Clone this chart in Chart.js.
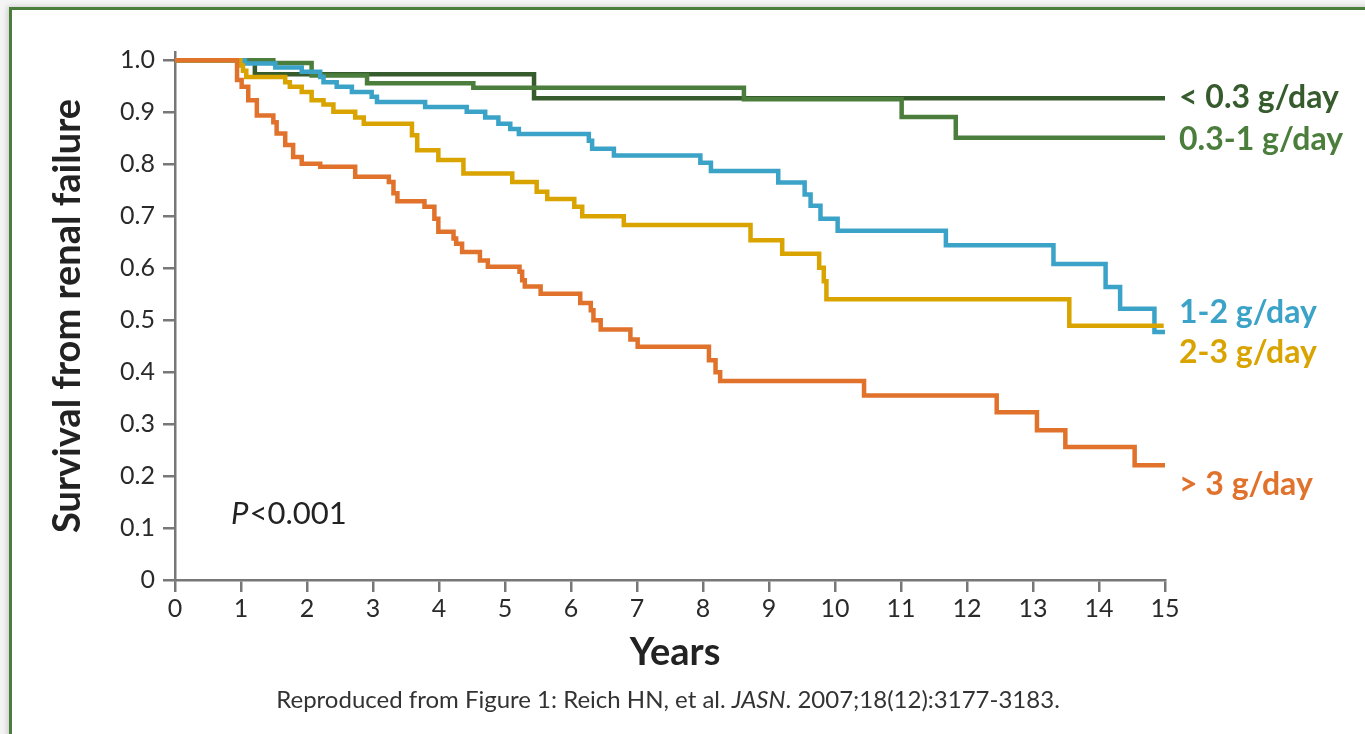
<!DOCTYPE html>
<html>
<head>
<meta charset="utf-8">
<script src="https://cdn.jsdelivr.net/npm/chart.js@4.4.1/dist/chart.umd.min.js"></script>
<style>
  html, body { margin: 0; padding: 0; background: #f4f4f4; overflow: hidden; }
  #card {
    position: absolute; left: 9px; top: 7px; width: 1400px; height: 800px;
    background: #fff; border-top: 3px solid #4b7d3c; border-left: 3px solid #4b7d3c;
    box-shadow: -2px -1px 5px rgba(0,0,0,0.15);
  }
  #kmChart { position: absolute; left: 0; top: 0; }
</style>
</head>
<body>
<div id="card"></div>
<canvas id="kmChart" width="1365" height="734"></canvas>
<script>
// Kaplan-Meier curves: event times (years) and survival after each event
var lt03Times = [0, 1.21, 5.44, 15];
var lt03Surv  = [1.0, 0.973, 0.927, 0.927];

var g03to1Times = [0, 1.49, 2.07, 2.91, 4.52, 8.62, 11.01, 11.83, 15];
var g03to1Surv  = [1.0, 0.995, 0.971, 0.956, 0.947, 0.925, 0.891, 0.851, 0.851];

var g1to2Times = [0, 1.06, 1.52, 1.92, 2.20, 2.25, 2.45, 2.68, 2.98, 3.06, 3.79, 4.42, 4.70, 4.90,
                  5.08, 5.21, 6.27, 6.32, 6.65, 7.96, 8.12, 9.14, 9.54, 9.63, 9.78, 10.04,
                  11.68, 13.31, 14.10, 14.32, 14.84, 15];
var g1to2Surv  = [1.0, 0.994, 0.986, 0.978, 0.968, 0.958, 0.949, 0.939, 0.930, 0.920, 0.910, 0.901, 0.890, 0.878,
                  0.868, 0.858, 0.845, 0.830, 0.817, 0.803, 0.787, 0.765, 0.742, 0.720, 0.695, 0.672,
                  0.644, 0.608, 0.564, 0.522, 0.477, 0.477];

var g2to3Times = [0, 0.99, 1.03, 1.08, 1.67, 1.74, 1.92, 2.07, 2.25, 2.40, 2.73, 2.86, 3.59, 3.67,
                  3.99, 4.37, 5.11, 5.48, 5.64, 6.05, 6.17, 6.80, 8.72, 9.20, 9.76, 9.83, 9.87,
                  13.55, 14.98];
var g2to3Surv  = [1.0, 0.99, 0.98, 0.968, 0.958, 0.949, 0.939, 0.923, 0.915, 0.901, 0.890, 0.878, 0.856, 0.827,
                  0.808, 0.782, 0.766, 0.747, 0.733, 0.718, 0.700, 0.683, 0.654, 0.628, 0.601, 0.575, 0.540,
                  0.489, 0.489];

var gt3Times = [0, 0.94, 1.01, 1.11, 1.24, 1.49, 1.54, 1.67, 1.79, 1.92, 2.20, 2.73, 3.24, 3.31, 3.37,
                3.78, 3.93, 3.99, 4.22, 4.26, 4.35, 4.62, 4.74, 5.22, 5.26, 5.30, 5.54, 6.14, 6.30,
                6.34, 6.45, 6.90, 7.01, 8.09, 8.19, 8.26, 10.44, 12.45, 13.06, 13.49, 14.54, 15];
var gt3Surv  = [1.0, 0.962, 0.949, 0.923, 0.894, 0.881, 0.859, 0.837, 0.814, 0.801, 0.795, 0.776, 0.766, 0.744, 0.729,
                0.718, 0.695, 0.670, 0.657, 0.647, 0.631, 0.615, 0.603, 0.593, 0.577, 0.565, 0.551, 0.533, 0.519,
                0.500, 0.482, 0.463, 0.449, 0.423, 0.400, 0.383, 0.355, 0.323, 0.288, 0.256, 0.221, 0.221];

var seriesNames = ['< 0.3 g/day', '0.3-1 g/day', '1-2 g/day', '2-3 g/day', '> 3 g/day'];
var xTickValues = [0, 1, 2, 3, 4, 5, 6, 7, 8, 9, 10, 11, 12, 13, 14, 15];
var yTickValues = [0, 0.1, 0.2, 0.3, 0.4, 0.5, 0.6, 0.7, 0.8, 0.9, 1.0];

var colors = ['#365b2d', '#4b7d3c', '#3ca3c8', '#d9a300', '#e0722c'];

// where each series label sits (baseline, px)
var labelBaselines = [108, 150, 323, 363, 495];

function toPoints(times, surv) {
    return times.map((t, i) => ({ x: t, y: surv[i] }));
}

var allTimes = [lt03Times, g03to1Times, g1to2Times, g2to3Times, gt3Times];
var allSurv = [lt03Surv, g03to1Surv, g1to2Surv, g2to3Surv, gt3Surv];

var datasets = seriesNames.map((name, i) => ({
    label: name,
    data: toPoints(allTimes[i], allSurv[i]),
    borderColor: colors[i],
    backgroundColor: colors[i],
    borderWidth: 4.5,
    stepped: true,
    pointRadius: 0,
    fill: false,
    borderJoinStyle: 'miter',
    borderCapStyle: 'butt',
    order: 5 - i
}));

// Extra text: axis titles, P value, series labels, source line
var textPlugin = {
    id: 'kmText',
    afterDraw(chart) {
        var ctx = chart.ctx;
        var area = chart.chartArea;
        ctx.save();

        // y axis title
        ctx.fillStyle = '#222';
        ctx.font = 'bold 38px Lato';
        ctx.textAlign = 'center';
        ctx.textBaseline = 'middle';
        ctx.translate(68, 316);
        ctx.rotate(-Math.PI / 2);
        ctx.fillText('Survival from renal failure', 0, 0);
        ctx.setTransform(1, 0, 0, 1, 0, 0);

        // x axis title
        ctx.font = 'bold 38px Lato';
        ctx.textBaseline = 'alphabetic';
        ctx.fillText('Years', 675, 665);

        // P value
        ctx.textAlign = 'left';
        ctx.font = 'italic 31px Lato';
        ctx.fillText('P', 231, 524);
        var pw = ctx.measureText('P').width;
        ctx.font = '31px Lato';
        ctx.fillText('<0.001', 231 + pw + 1, 524);

        // series labels
        ctx.font = 'bold 32px Lato';
        seriesNames.forEach((name, i) => {
            ctx.fillStyle = colors[i];
            ctx.fillText(name, area.right + 14, labelBaselines[i]);
        });

        // source line
        ctx.fillStyle = '#333';
        var parts = [
            ['Reproduced from Figure 1: Reich HN, et al. ', '24px Lato'],
            ['JASN', 'italic 24px Lato'],
            ['. 2007;18(12):3177-3183.', '24px Lato']
        ];
        var total = 0;
        parts.forEach(p => { ctx.font = p[1]; total += ctx.measureText(p[0]).width; });
        var x = 668 - total / 2;
        parts.forEach(p => {
            ctx.font = p[1];
            ctx.fillText(p[0], x, 708);
            x += ctx.measureText(p[0]).width;
        });

        ctx.restore();
    }
};

var ctx = document.getElementById('kmChart').getContext('2d');

new Chart(ctx, {
    type: 'line',
    data: { datasets: datasets },
    options: {
        responsive: false,
        animation: false,
        layout: { padding: { left: 0, top: 52, right: 200, bottom: 0 } },
        plugins: {
            legend: { display: false },
            tooltip: { enabled: false }
        },
        scales: {
            x: {
                type: 'linear',
                min: 0,
                max: 15,
                afterBuildTicks: scale => { scale.ticks = xTickValues.map(v => ({ value: v })); },
                afterFit: scale => { scale.height = 154; },
                border: { display: true, color: '#777', width: 2.5 },
                grid: { drawOnChartArea: false, drawTicks: true, tickLength: 12, color: '#777', lineWidth: 2.5 },
                ticks: {
                    color: '#2a2a2a',
                    font: { family: 'Lato', size: 25 },
                    padding: 2,
                    maxRotation: 0,
                    autoSkip: false,
                    callback: v => String(v)
                }
            },
            y: {
                type: 'linear',
                min: 0,
                max: 1.016,
                afterBuildTicks: scale => { scale.ticks = yTickValues.map(v => ({ value: v })); },
                afterFit: scale => { scale.width = 175; },
                border: { display: true, color: '#777', width: 2.5 },
                grid: { drawOnChartArea: false, drawTicks: true, tickLength: 12, color: '#777', lineWidth: 2.5 },
                ticks: {
                    color: '#2a2a2a',
                    font: { family: 'Lato', size: 25 },
                    padding: 8,
                    autoSkip: false,
                    callback: v => (v === 0 ? '0' : v.toFixed(1))
                }
            }
        }
    },
    plugins: [textPlugin]
});
</script>
</body>
</html>
